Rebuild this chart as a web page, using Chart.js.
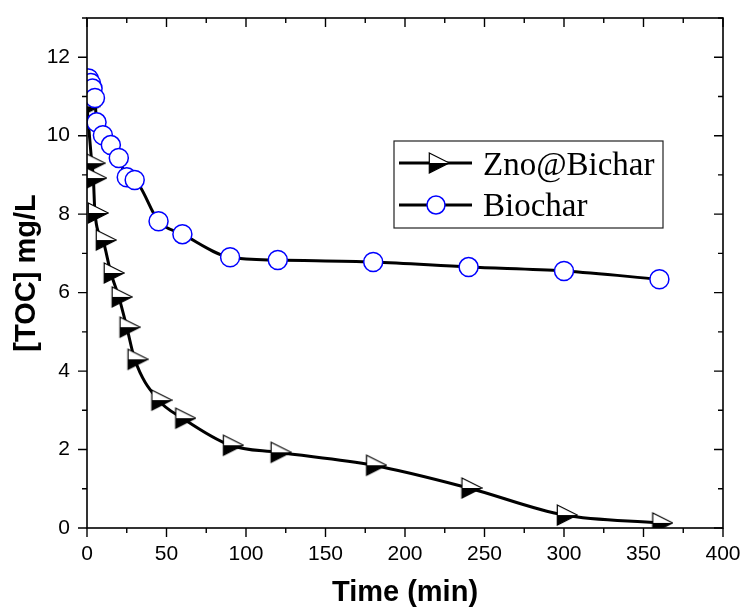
<!DOCTYPE html>
<html>
<head>
<meta charset="utf-8">
<script src="https://cdn.jsdelivr.net/npm/chart.js@4.4.1/dist/chart.umd.min.js"></script>
<style>
  html, body { margin: 0; padding: 0; background: #fff; }
  canvas { display: block; }
</style>
</head>
<body>
<canvas id="chart" width="741" height="610"></canvas>
<script>
// Data
const seriesLabels = ["Zno@Bichar", "Biochar"]
const znoTimes = [0, 3, 4, 5, 10, 15, 20, 25, 30, 45, 60, 90, 120, 180, 240, 300, 360]
const znoToc = [10.75, 9.3, 8.92, 8.03, 7.34, 6.5, 5.89, 5.12, 4.3, 3.26, 2.8, 2.11, 1.93, 1.6, 1.02, 0.33, 0.13]
const biocharTimes = [1, 2.5, 3.5, 5, 6, 10, 15, 20, 25, 30, 45, 60, 90, 120, 180, 240, 300, 360]
const biocharToc = [11.46, 11.34, 11.2, 10.96, 10.34, 10.01, 9.76, 9.43, 8.94, 8.87, 7.82, 7.49, 6.9, 6.83, 6.78, 6.65, 6.55, 6.34]
const xTickValues = [0, 50, 100, 150, 200, 250, 300, 350, 400]
const yTickValues = [0, 2, 4, 6, 8, 10, 12]

const toPoints = (xs, ys) => xs.map((x, i) => ({ x: x, y: ys[i] }))

// Half-filled right-pointing triangle, canvas centre = marker centroid
const makeTriangle = () => {
  const c = document.createElement("canvas")
  c.width = 28
  c.height = 24
  const g = c.getContext("2d")
  const l = 7.3, r = 27.3, t = 2, b = 22, m = 12
  g.fillStyle = "#000"
  g.beginPath()
  g.moveTo(l, m); g.lineTo(r, m); g.lineTo(l, b); g.closePath()
  g.fill()
  g.fillStyle = "#fff"
  g.beginPath()
  g.moveTo(l, t); g.lineTo(r, m); g.lineTo(l, m); g.closePath()
  g.fill()
  g.strokeStyle = "#000"
  g.lineWidth = 1.2
  g.beginPath()
  g.moveTo(l, t); g.lineTo(r, m); g.lineTo(l, b); g.closePath()
  g.stroke()
  return c
}
const triangle = makeTriangle()

// Box frame with Origin-style ticks (outward on left/bottom, inward on top/right)
const frameTicksPlugin = {
  id: "frameTicks",
  afterDatasetsDraw: (chart) => {
    const ctx = chart.ctx
    const { left, right, top, bottom } = chart.chartArea
    const xs = chart.scales.x
    const ys = chart.scales.y
    ctx.save()
    ctx.strokeStyle = "#000"
    ctx.lineWidth = 1.6
    ctx.strokeRect(left, top, right - left, bottom - top)
    ctx.lineWidth = 1.4
    ctx.beginPath()
    for (let v = 0; v <= 400; v += 25) {
      const px = xs.getPixelForValue(v)
      const len = v % 50 === 0 ? 9 : 5
      ctx.moveTo(px, bottom); ctx.lineTo(px, bottom + len)
      ctx.moveTo(px, top); ctx.lineTo(px, top + len)
    }
    for (let v = 0; v <= 13; v += 1) {
      const py = ys.getPixelForValue(v)
      const len = v % 2 === 0 ? 9 : 5
      ctx.moveTo(left, py); ctx.lineTo(left - len, py)
      ctx.moveTo(right, py); ctx.lineTo(right - len, py)
    }
    ctx.stroke()
    ctx.restore()
  },
}

// Boxed legend inside the plot
const boxLegendPlugin = {
  id: "boxLegend",
  afterDraw: (chart) => {
    const ctx = chart.ctx
    ctx.save()
    ctx.strokeStyle = "#222"
    ctx.lineWidth = 1.2
    ctx.strokeRect(394, 141, 269, 87)
    ctx.strokeStyle = "#000"
    ctx.lineWidth = 3
    ctx.beginPath()
    ctx.moveTo(399, 163); ctx.lineTo(472, 163)
    ctx.moveTo(399, 205); ctx.lineTo(472, 205)
    ctx.stroke()
    ctx.drawImage(triangle, 436 - triangle.width / 2, 163 - triangle.height / 2)
    ctx.beginPath()
    ctx.arc(436, 205, 9, 0, Math.PI * 2)
    ctx.fillStyle = "#fff"
    ctx.fill()
    ctx.strokeStyle = "#0000ff"
    ctx.lineWidth = 1.5
    ctx.stroke()
    ctx.fillStyle = "#000"
    ctx.font = "33px 'Liberation Serif', 'Times New Roman', serif"
    ctx.textAlign = "left"
    ctx.textBaseline = "alphabetic"
    ctx.fillText(seriesLabels[0], 483, 175)
    ctx.fillText(seriesLabels[1], 483, 216)
    ctx.restore()
  },
}

// fixed axis box sizes, no extra label padding
const fixBox = (size) => (scale) => {
  if (scale.isHorizontal()) scale.height = size
  else scale.width = size
  scale.paddingLeft = 0
  scale.paddingRight = 0
  scale.paddingTop = 0
  scale.paddingBottom = 0
}

const ctx = document.getElementById("chart").getContext("2d")
new Chart(ctx, {
  type: "line",
  data: {
    datasets: [
      {
        label: seriesLabels[0],
        data: toPoints(znoTimes, znoToc),
        borderColor: "#000",
        borderWidth: 3,
        cubicInterpolationMode: "monotone",
        pointStyle: triangle,
        pointRadius: 10,
        clip: 0,
        order: 1,
      },
      {
        label: seriesLabels[1],
        data: toPoints(biocharTimes, biocharToc),
        borderColor: "#000",
        borderWidth: 3,
        cubicInterpolationMode: "monotone",
        pointStyle: "circle",
        pointRadius: 9.5,
        pointBorderColor: "#0000ff",
        pointBackgroundColor: "#fff",
        pointBorderWidth: 1.5,
        clip: 0,
        order: 0,
      },
    ],
  },
  options: {
    responsive: false,
    animation: false,
    events: [],
    layout: { padding: { top: 18, right: 18, left: 0, bottom: 0 } },
    plugins: {
      legend: { display: false },
      tooltip: { enabled: false },
    },
    scales: {
      x: {
        type: "linear",
        min: 0,
        max: 400,
        grid: { display: false },
        border: { display: false },
        afterBuildTicks: (scale) => {
          scale.ticks = xTickValues.map((v) => ({ value: v }))
        },
        afterFit: fixBox(82),
        ticks: {
          padding: 6,
          color: "#000",
          font: { family: "'Liberation Sans', Arial, sans-serif", size: 21 },
        },
        title: {
          display: true,
          text: "Time (min)",
          color: "#000",
          font: { family: "'Liberation Sans', Arial, sans-serif", size: 29, weight: "bold", lineHeight: 1 },
          padding: { top: 0, bottom: 3 },
        },
      },
      y: {
        type: "linear",
        min: 0,
        max: 13,
        grid: { display: false },
        border: { display: false },
        afterBuildTicks: (scale) => {
          scale.ticks = yTickValues.map((v) => ({ value: v }))
        },
        afterFit: fixBox(87),
        ticks: {
          padding: 9,
          color: "#000",
          font: { family: "'Liberation Sans', Arial, sans-serif", size: 21 },
        },
        title: {
          display: true,
          text: "[TOC] mg/L",
          color: "#000",
          font: { family: "'Liberation Sans', Arial, sans-serif", size: 29, weight: "bold", lineHeight: 1 },
          padding: { top: 12, bottom: 0 },
        },
      },
    },
  },
  plugins: [frameTicksPlugin, boxLegendPlugin],
})
</script>
</body>
</html>
